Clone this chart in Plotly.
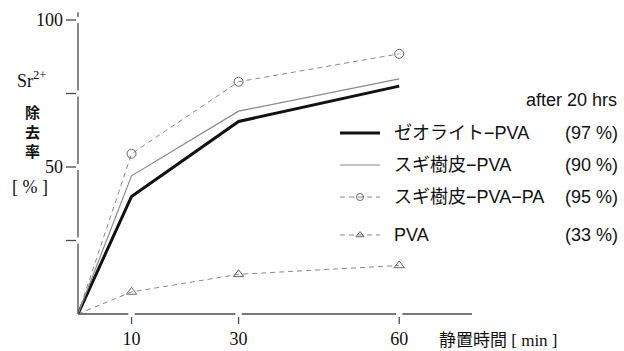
import plotly.graph_objects as go

# --- data -------------------------------------------------------------
time_min = [0, 10, 30, 60]
zeolite_pva = [0, 40, 65.5, 77.5]
sugi_pva = [0, 47, 69, 80]
sugi_pva_pa = [0, 54.5, 79, 88.5]
pva = [0, 7.5, 13.5, 16.5]

series_names = ["ゼオライト−PVA", "スギ樹皮−PVA", "スギ樹皮−PVA−PA", "PVA"]
after_20h = ["(97 %)", "(90 %)", "(95 %)", "(33 %)"]

x_ticks = [10, 30, 60]
y_ticks = [25, 50, 75, 100]
y_labels = {50: "50", 100: "100"}

# --- geometry ----------------------------------------------------------
W, H = 624, 351
L, R, T, B = 78, 152, 20, 37
X_MAX, Y_MAX = 73.6, 100

SERIF = "Liberation Serif, Noto Sans CJK JP, serif"
SANS = "Liberation Sans, Noto Sans CJK JP, sans-serif"
CJK = "Noto Sans CJK JP, sans-serif"
AXIS_COLOR = "#4a4a4a"
TEXT = "#111"

styles = [
    dict(line=dict(color="#111", width=3), marker=None),
    dict(line=dict(color="#8a8a8a", width=1.2), marker=None),
    dict(line=dict(color="#8a8a8a", width=1, dash="5px,4px"),
         marker=dict(symbol="circle-open", size=9, color="#666", line=dict(width=1))),
    dict(line=dict(color="#8a8a8a", width=1, dash="5px,4px"),
         marker=dict(symbol="triangle-up-open", size=9, color="#666", line=dict(width=1))),
]
values = [zeolite_pva, sugi_pva, sugi_pva_pa, pva]

fig = go.Figure()

for name, ys, st in zip(series_names, values, styles):
    tr = dict(x=time_min, y=ys, name=name, line=st["line"], showlegend=False,
              cliponaxis=False)
    if st["marker"] is None:
        tr["mode"] = "lines"
    else:
        m = dict(st["marker"])
        # no marker at the origin
        m["opacity"] = [0 if v == 0 else 1 for v in time_min]
        tr["mode"] = "lines+markers"
        tr["marker"] = m
    fig.add_trace(go.Scatter(**tr))


def px_x(p):
    return (p - L) / (W - L - R)


def px_y(p):
    return 1 - (p - T) / (H - T - B)


# --- hand-made key on a pixel-scaled overlay -------------------------------
key_rows = [133, 165, 197, 235]
for name, st, ky in zip(series_names, styles, key_rows):
    tr = dict(x=[340, 360, 380], y=[ky, ky, ky], xaxis="x2", yaxis="y2",
              line=st["line"], showlegend=False, hoverinfo="skip")
    if st["marker"] is None:
        tr["mode"] = "lines"
    else:
        m = dict(st["marker"])
        m["size"] = 7
        m["opacity"] = [0, 1, 0]
        tr["mode"] = "lines+markers"
        tr["marker"] = m
    fig.add_trace(go.Scatter(**tr))

annotations = []


def note(text, x, y, anchor, family, size):
    annotations.append(dict(text=text, x=px_x(x), y=px_y(y), xref="paper", yref="paper",
                            xanchor=anchor, yanchor="middle", showarrow=False,
                            font=dict(family=family, size=size, color=TEXT)))


note("after 20 hrs", 619, 100, "right", SANS, 18)
for name, pct, ky in zip(series_names, after_20h, key_rows):
    note(name, 392, ky, "left", SANS, 18)
    note(pct, 620, ky, "right", SANS, 18)

# y-axis title pieces
note("Sr<sup>2+</sup>", 31, 79, "center", SERIF, 18)
note("<b>除<br>去<br>率</b>", 32, 131, "center", CJK, 15)
note("[ % ]", 30, 187, "center", SERIF, 18)
# x-axis title
note("静置時間 [ min ]", 437, 340, "left", SERIF, 17)

# --- broken axis lines and ticks (paper space so nothing is clipped) ---------
shapes = []
line_st = dict(color=AXIS_COLOR, width=1.3)
GAP_Y = 1.0  # y units
GAP_X = 0.6  # x units

y_stops = [0] + y_ticks
for a, b in zip(y_stops[:-1], y_stops[1:]):
    y0 = a if a == 0 else a + GAP_Y
    y1 = b - GAP_Y
    shapes.append(dict(type="line", xref="paper", yref="paper", x0=0, x1=0,
                       y0=y0 / Y_MAX, y1=y1 / Y_MAX, line=line_st))
# short stub above the top tick
shapes.append(dict(type="line", xref="paper", yref="paper", x0=0, x1=0,
                   y0=(Y_MAX + GAP_Y) / Y_MAX, y1=(Y_MAX + 2.6) / Y_MAX, line=line_st))
for v in y_ticks:
    shapes.append(dict(type="line", xref="paper", yref="paper", xsizemode="pixel",
                       xanchor=0, x0=-12, x1=-2, y0=v / Y_MAX, y1=v / Y_MAX,
                       line=line_st))

x_stops = [0] + x_ticks + [X_MAX]
for a, b in zip(x_stops[:-1], x_stops[1:]):
    x0 = a if a == 0 else a + GAP_X
    x1 = b if b == X_MAX else b - GAP_X
    shapes.append(dict(type="line", xref="paper", yref="paper", x0=x0 / X_MAX,
                       x1=x1 / X_MAX, y0=0, y1=0, line=line_st))
for v in x_ticks:
    shapes.append(dict(type="line", xref="paper", yref="paper", ysizemode="pixel",
                       yanchor=0, x0=v / X_MAX, x1=v / X_MAX, y0=-3, y1=-10,
                       line=line_st))

fig.update_layout(
    width=W, height=H,
    margin=dict(l=L, r=R, t=T, b=B, pad=0, autoexpand=False),
    paper_bgcolor="white", plot_bgcolor="white",
    showlegend=False,
    xaxis=dict(range=[0, X_MAX], showgrid=False, zeroline=False, showline=False,
               tickvals=x_ticks, ticktext=[str(v) for v in x_ticks], ticks="",
               ticklabelstandoff=12, automargin=False,
               tickfont=dict(family=SERIF, size=18, color=TEXT)),
    yaxis=dict(range=[0, Y_MAX], showgrid=False, zeroline=False, showline=False,
               tickvals=list(y_labels.keys()), ticktext=list(y_labels.values()), ticks="",
               ticklabelstandoff=14, automargin=False,
               tickfont=dict(family=SERIF, size=18, color=TEXT)),
    xaxis2=dict(range=[L, W - R], overlaying="x", visible=False),
    yaxis2=dict(range=[H - B, T], overlaying="y", visible=False),
    shapes=shapes,
    annotations=annotations,
)

fig.write_html("out.html")
